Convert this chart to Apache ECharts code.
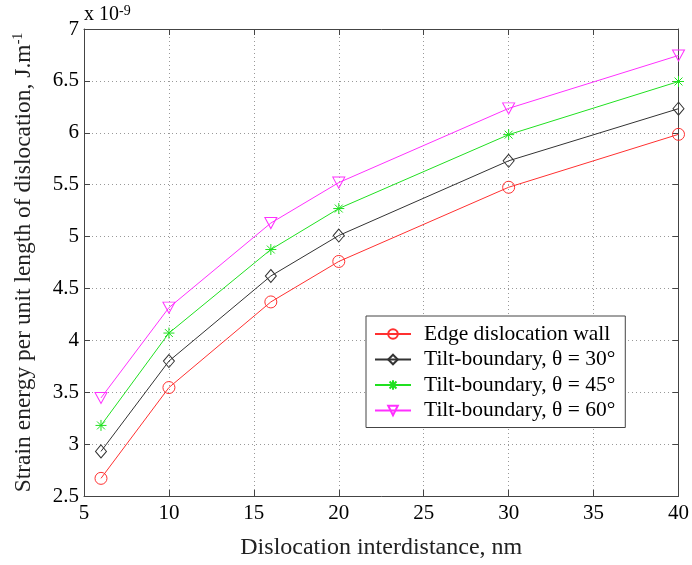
<!DOCTYPE html>
<html><head><meta charset="utf-8">
<script src="https://cdn.jsdelivr.net/npm/echarts@6/dist/echarts.min.js"></script>
<style>html,body{margin:0;padding:0;background:#fff}#c{width:692px;height:565px}</style>
</head><body><div id="c"></div>
<script>
var xValues = [6, 10, 16, 20, 30, 40];
var edgeWall = [2.67, 3.545, 4.37, 4.76, 5.475, 5.985];
var tilt30 = [2.93, 3.80, 4.62, 5.01, 5.73, 6.232];
var tilt45 = [3.18, 4.07, 4.875, 5.27, 5.982, 6.494];
var tilt60 = [3.445, 4.315, 5.13, 5.52, 6.235, 6.745];
var seriesNames = ['Edge dislocation wall', 'Tilt-boundary, \u03b8 = 30\u00b0', 'Tilt-boundary, \u03b8 = 45\u00b0', 'Tilt-boundary, \u03b8 = 60\u00b0'];

var font = 'Liberation Serif';
function pair(arr){ return xValues.map(function(x,i){return [x, arr[i]];}); }
var circle = 'path://M-5,0A5,5 0 1,1 5,0A5,5 0 1,1 -5,0Z';
var diamond = 'path://M0,-6L5,0L0,6L-5,0Z';
var star = 'path://M0,-5L0,5M-5,0L5,0M-3.6,-3.6L3.6,3.6M-3.6,3.6L3.6,-3.6';
var triDown = 'path://M-5,-4L5,-4L0,5Z';
function mk(name, data, color, symbol, w, h){
  return {
    name: name, type: 'line', data: pair(data), symbol: symbol, symbolSize: [w, h],
    lineStyle: {color: color, width: 1},
    itemStyle: {color: 'none', borderColor: color, borderWidth: 1},
    emphasis: {disabled: true}, animation: false, z: 3
  };
}
var chart = echarts.init(document.getElementById('c'));
var axisLine = {show: true, lineStyle: {color: '#444', width: 1}};
chart.setOption({
  animation: false,
  grid: {left: 84, right: 11, top: 29, bottom: 67},
  legend: {
    left: 366, top: 316, width: 264, orient: 'vertical',
    padding: [7, 10, 6, 8], itemGap: 3.5, itemWidth: 36, itemHeight: 12,
    backgroundColor: '#fff', borderColor: '#444', borderWidth: 1,
    textStyle: {fontFamily: font, fontSize: 21.5, color: '#000', padding: [0,0,0,8]},
    data: seriesNames
  },
  xAxis: [{
    type: 'value', min: 5, max: 40, interval: 5,
    name: 'Dislocation interdistance, nm', nameLocation: 'middle', nameGap: 40,
    nameTextStyle: {fontFamily: font, fontSize: 24, color: '#222'},
    axisLine: axisLine, axisTick: {inside: true, length: 6, lineStyle: {color: '#444'}},
    axisLabel: {fontFamily: font, fontSize: 21, color: '#000', margin: 7},
    splitLine: {show: true, lineStyle: {color: '#999', type: [1, 3], width: 1}}
  }, {
    type: 'value', min: 5, max: 40, interval: 5, position: 'top',
    axisLine: axisLine, axisTick: {inside: true, length: 6, lineStyle: {color: '#444'}},
    axisLabel: {show: false}, splitLine: {show: false}
  }],
  yAxis: [{
    type: 'value', min: 2.5, max: 7, interval: 0.5,
    name: '{a|Strain energy per unit length of dislocation, J.m}{s|-1}', nameLocation: 'middle', nameGap: 47,
    nameTextStyle: {rich: {
      a: {fontFamily: font, fontSize: 23.5, color: '#222'},
      s: {fontFamily: font, fontSize: 14, color: '#222', verticalAlign: 'top', padding: [0,0,12,0]}
    }},
    axisLine: axisLine, axisTick: {inside: true, length: 6, lineStyle: {color: '#444'}},
    axisLabel: {fontFamily: font, fontSize: 21, color: '#000', margin: 5},
    splitLine: {show: true, lineStyle: {color: '#999', type: [1, 3], width: 1}}
  }, {
    type: 'value', min: 2.5, max: 7, interval: 0.5, position: 'right',
    axisLine: axisLine, axisTick: {inside: true, length: 6, lineStyle: {color: '#444'}},
    axisLabel: {show: false}, splitLine: {show: false}
  }],
  graphic: [{
    type: 'text', left: 84, top: 4,
    style: {text: '{a|x 10}{s|-9}', rich: {
      a: {fontFamily: font, fontSize: 20, fill: '#000'},
      s: {fontFamily: font, fontSize: 14, fill: '#000', verticalAlign: 'top', padding: [0,0,8,0]}
    }}
  }],
  series: [
    mk(seriesNames[0], edgeWall, '#ff3030', circle, 12, 12),
    mk(seriesNames[1], tilt30, '#333333', diamond, 11, 13),
    mk(seriesNames[2], tilt45, '#20e020', star, 11, 11),
    mk(seriesNames[3], tilt60, '#ff30ff', triDown, 12, 11)
  ]
});
</script></body></html>
